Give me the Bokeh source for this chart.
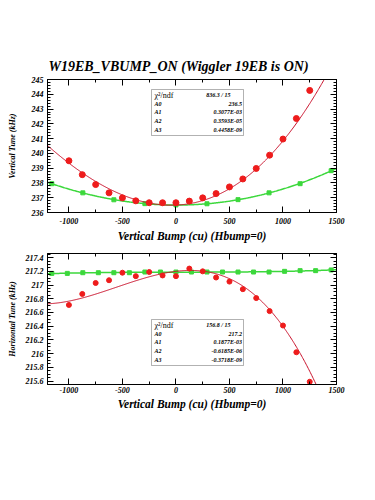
import numpy as np
from bokeh.plotting import figure
from bokeh.layouts import column
from bokeh.models import Range1d, LinearAxis, FixedTicker, Label, BoxAnnotation
from bokeh.embed import file_html
from bokeh.resources import INLINE

# ---------------- data ----------------
TITLE = "W19EB_VBUMP_ON (Wiggler 19EB is ON)"
X_TITLE = "Vertical Bump (cu) (Hbump=0)"
Y_TITLE_TOP = "Vertical Tune (kHz)"
Y_TITLE_BOT = "Horizontal Tune (kHz)"

x_ticks = [-1000, -500, 0, 500, 1000, 1500]
x_tick_labels = ["-1000", "-500", "0", "500", "1000", "1500"]
y_ticks_top = [236, 237, 238, 239, 240, 241, 242, 243, 244, 245]
y_tick_labels_top = ["236", "237", "238", "239", "240", "241", "242", "243", "244", "245"]
y_ticks_bot = [215.6, 215.8, 216.0, 216.2, 216.4, 216.6, 216.8, 217.0, 217.2, 217.4]
y_tick_labels_bot = ["215.6", "215.8", "216", "216.2", "216.4", "216.6", "216.8", "217", "217.2", "217.4"]

bump_red = [-1000, -875, -750, -625, -500, -375, -250, -125, 0, 125, 250, 375,
            500, 625, 750, 875, 1000, 1125, 1250]
vtune_red = [239.50, 238.56, 237.89, 237.33, 236.99, 236.79, 236.66, 236.66, 236.66,
             236.77, 236.99, 237.28, 237.73, 238.27, 238.98, 239.88, 240.97, 242.36, 244.26]
bump_green_v = [-1160, -870, -580, -290, 0, 290, 580, 870, 1160, 1450]
vtune_green = [237.95, 237.33, 236.86, 236.60, 236.51, 236.59, 236.87, 237.33, 237.95, 238.83]

htune_red = [216.71, 216.87, 217.03, 217.07, 217.18, 217.13, 217.19, 217.14, 217.13,
             217.24, 217.20, 217.11, 217.05, 216.94, 216.81, 216.62, 216.41, 216.02, 215.59]
bump_green_h = [-1160, -1015, -870, -725, -580, -435, -290, -145, 0, 145, 290, 435,
                580, 725, 870, 1015, 1160, 1305, 1450]
htune_green = [217.17, 217.17, 217.18, 217.18, 217.18, 217.18, 217.19, 217.19, 217.19,
               217.19, 217.19, 217.19, 217.19, 217.19, 217.19, 217.20, 217.21, 217.21, 217.22]

# fit results shown in stat boxes (cubic pol3: A0..A3)
vfit_coef = [236.5, 0.3077e-03, 0.3593e-05, 0.4458e-09]
hfit_coef = [217.2, 0.1877e-03, -0.6185e-06, -0.3718e-09]
stat_names = ["A0", "A1", "A2", "A3"]
vstat_chi = "836.3  /  15"
vstat_vals = ["236.5", "0.3077E-03", "0.3593E-05", "0.4458E-09"]
hstat_chi = "156.8  /  15"
hstat_vals = ["217.2", "0.1877E-03", "-0.6185E-06", "-0.3718E-09"]

# ---------------- style ----------------
SERIF = "Liberation Serif"
RED_M = "#ee1c1c"
RED_L = "#c8102a"
GREEN = "#3cd83c"

XMIN, XMAX = -1200, 1500
FL, FR = 47, 336          # frame left/right (px)
W = 375


def tx(px):
    return XMIN + (px - FL) * (XMAX - XMIN) / (FR - FL)


def poly(coef, x):
    return sum(c * x ** i for i, c in enumerate(coef))


def make_fig(height, top, bottom, yr, yticks, ylabels, yminor, ylab, ylab_standoff,
             lab_standoff, axlab_standoff, title=None):
    kw = {}
    if title:
        kw["title"] = title
    p = figure(width=W, height=height, output_backend="svg", toolbar_location=None,
               x_range=Range1d(XMIN, XMAX), y_range=Range1d(*yr),
               min_border_left=FL, min_border_right=W - FR,
               min_border_top=top, min_border_bottom=bottom,
               x_axis_location=None, y_axis_location=None, **kw)
    p.xgrid.visible = False
    p.ygrid.visible = False
    p.outline_line_color = "black"
    p.outline_line_width = 1
    p.background_fill_color = "white"
    p.border_fill_color = "white"

    xt = FixedTicker(ticks=x_ticks, minor_ticks=list(np.arange(-1250, 1501, 250)))
    yt = FixedTicker(ticks=yticks, minor_ticks=yminor)
    xover = {t: l for t, l in zip(x_ticks, x_tick_labels)}
    yover = {t: l for t, l in zip(yticks, ylabels)}

    def style(ax, labels=True):
        ax.axis_line_color = "black"
        ax.major_tick_in = 6
        ax.major_tick_out = 0
        ax.minor_tick_in = 3
        ax.minor_tick_out = 0
        ax.major_tick_line_color = "black"
        ax.minor_tick_line_color = "black"
        if labels:
            ax.major_label_text_font = SERIF
            ax.major_label_text_font_style = "bold italic"
            ax.major_label_text_font_size = "8px"
            ax.major_label_text_color = "black"
            ax.axis_label_text_font = SERIF
            ax.axis_label_text_font_style = "bold italic"
            ax.axis_label_text_color = "black"
        else:
            ax.major_label_text_font_size = "1px"
            ax.major_label_text_color = None
            ax.major_label_standoff = 0

    xb = LinearAxis(ticker=xt, major_label_overrides=xover, axis_label=X_TITLE)
    style(xb)
    xb.axis_label_text_font_size = "11.5px"
    xb.major_label_standoff = lab_standoff
    xb.axis_label_standoff = axlab_standoff
    p.add_layout(xb, "below")

    xa = LinearAxis(ticker=xt)
    style(xa, labels=False)
    p.add_layout(xa, "above")

    yl = LinearAxis(ticker=yt, major_label_overrides=yover, axis_label=ylab)
    style(yl)
    yl.axis_label_text_font_size = "8px"
    yl.major_label_standoff = 4
    yl.axis_label_standoff = ylab_standoff
    p.add_layout(yl, "left")

    yr_ax = LinearAxis(ticker=yt)
    style(yr_ax, labels=False)
    p.add_layout(yr_ax, "right")
    return p


def stat_box(p, ty, chi, vals):
    top, bot = 89, 135
    p.add_layout(BoxAnnotation(left=tx(151), right=tx(243), top=ty(top), bottom=ty(bot),
                               fill_color="white", fill_alpha=1.0,
                               line_color="black", line_width=1, level="annotation"))
    rows = [top + 5.5 + 8.7 * i for i in range(5)]
    p.add_layout(Label(x=tx(154), y=ty(rows[0]), text="\u03c7\u00b2/ndf", text_font=SERIF,
                       text_font_size="8px", text_baseline="middle", text_align="left",
                       text_color="black"))
    p.add_layout(Label(x=tx(233), y=ty(rows[0]), text=chi, text_font=SERIF,
                       text_font_style="bold italic", text_font_size="6px",
                       text_baseline="middle", text_align="right", text_color="black"))
    for i, (n, v) in enumerate(zip(stat_names, vals)):
        yy = ty(rows[i + 1])
        p.add_layout(Label(x=tx(154), y=yy, text=n, text_font=SERIF,
                           text_font_style="bold italic", text_font_size="6px",
                           text_baseline="middle", text_align="left", text_color="black"))
        p.add_layout(Label(x=tx(241.5), y=yy, text=v, text_font=SERIF,
                           text_font_style="bold italic", text_font_size="6px",
                           text_baseline="middle", text_align="right", text_color="black"))


xs = np.linspace(XMIN, XMAX, 400)

# ---------------- top panel ----------------
TOP_H = 248
p1 = make_fig(TOP_H, 79, TOP_H - 212, (236, 245), y_ticks_top, y_tick_labels_top,
              list(np.round(np.arange(236, 245.01, 0.2), 2)), Y_TITLE_TOP, 12, 5, 3,
              title=TITLE)
p1.title.text_font = SERIF
p1.title.text_font_style = "bold italic"
p1.title.text_font_size = "14px"
p1.title.text_color = "black"
p1.title.align = "left"
p1.title.offset = 1
p1.title.standoff = 12


def ty1(py):
    return 245 - (py - 79) * 9 / 133


gfit_v = np.polyfit(bump_green_v, vtune_green, 3)[::-1]
p1.line(xs, poly(gfit_v, xs), line_color=GREEN, line_width=1.5)
p1.scatter(bump_green_v, vtune_green, marker="square", size=4, color=GREEN)
p1.line(xs, poly(vfit_coef, xs), line_color=RED_L, line_width=1)
p1.scatter(bump_red, vtune_red, marker="circle", size=6, color=RED_M)
stat_box(p1, ty1, vstat_chi, vstat_vals)

# ---------------- bottom panel ----------------
BOT_H = 500 - TOP_H
BT = 253 - TOP_H
YB0, YB1 = 215.55, 217.46
p2 = make_fig(BOT_H, BT, BOT_H - BT - 131, (YB0, YB1), y_ticks_bot, y_tick_labels_bot,
              list(np.round(np.arange(215.55, 217.46, 0.05), 2)), Y_TITLE_BOT, 6, 2, 2)


def ty2(py):
    return YB1 - (py - 253) * (YB1 - YB0) / 131


def ty2_box(py):
    # stat box rows given in top-box coordinates, shifted to bottom box
    return ty2(py + 230)


gfit_h = np.polyfit(bump_green_h, htune_green, 3)[::-1]
p2.line(xs, poly(gfit_h, xs), line_color=GREEN, line_width=1.5)
p2.scatter(bump_green_h, htune_green, marker="square", size=4, color=GREEN)
p2.line(xs, poly(hfit_coef, xs), line_color=RED_L, line_width=1)
p2.scatter(bump_red, htune_red, marker="circle", size=5, color=RED_M)
stat_box(p2, ty2_box, hstat_chi, hstat_vals)

layout = column(p1, p2, spacing=0)
open("out.html", "w").write(file_html(layout, INLINE))
